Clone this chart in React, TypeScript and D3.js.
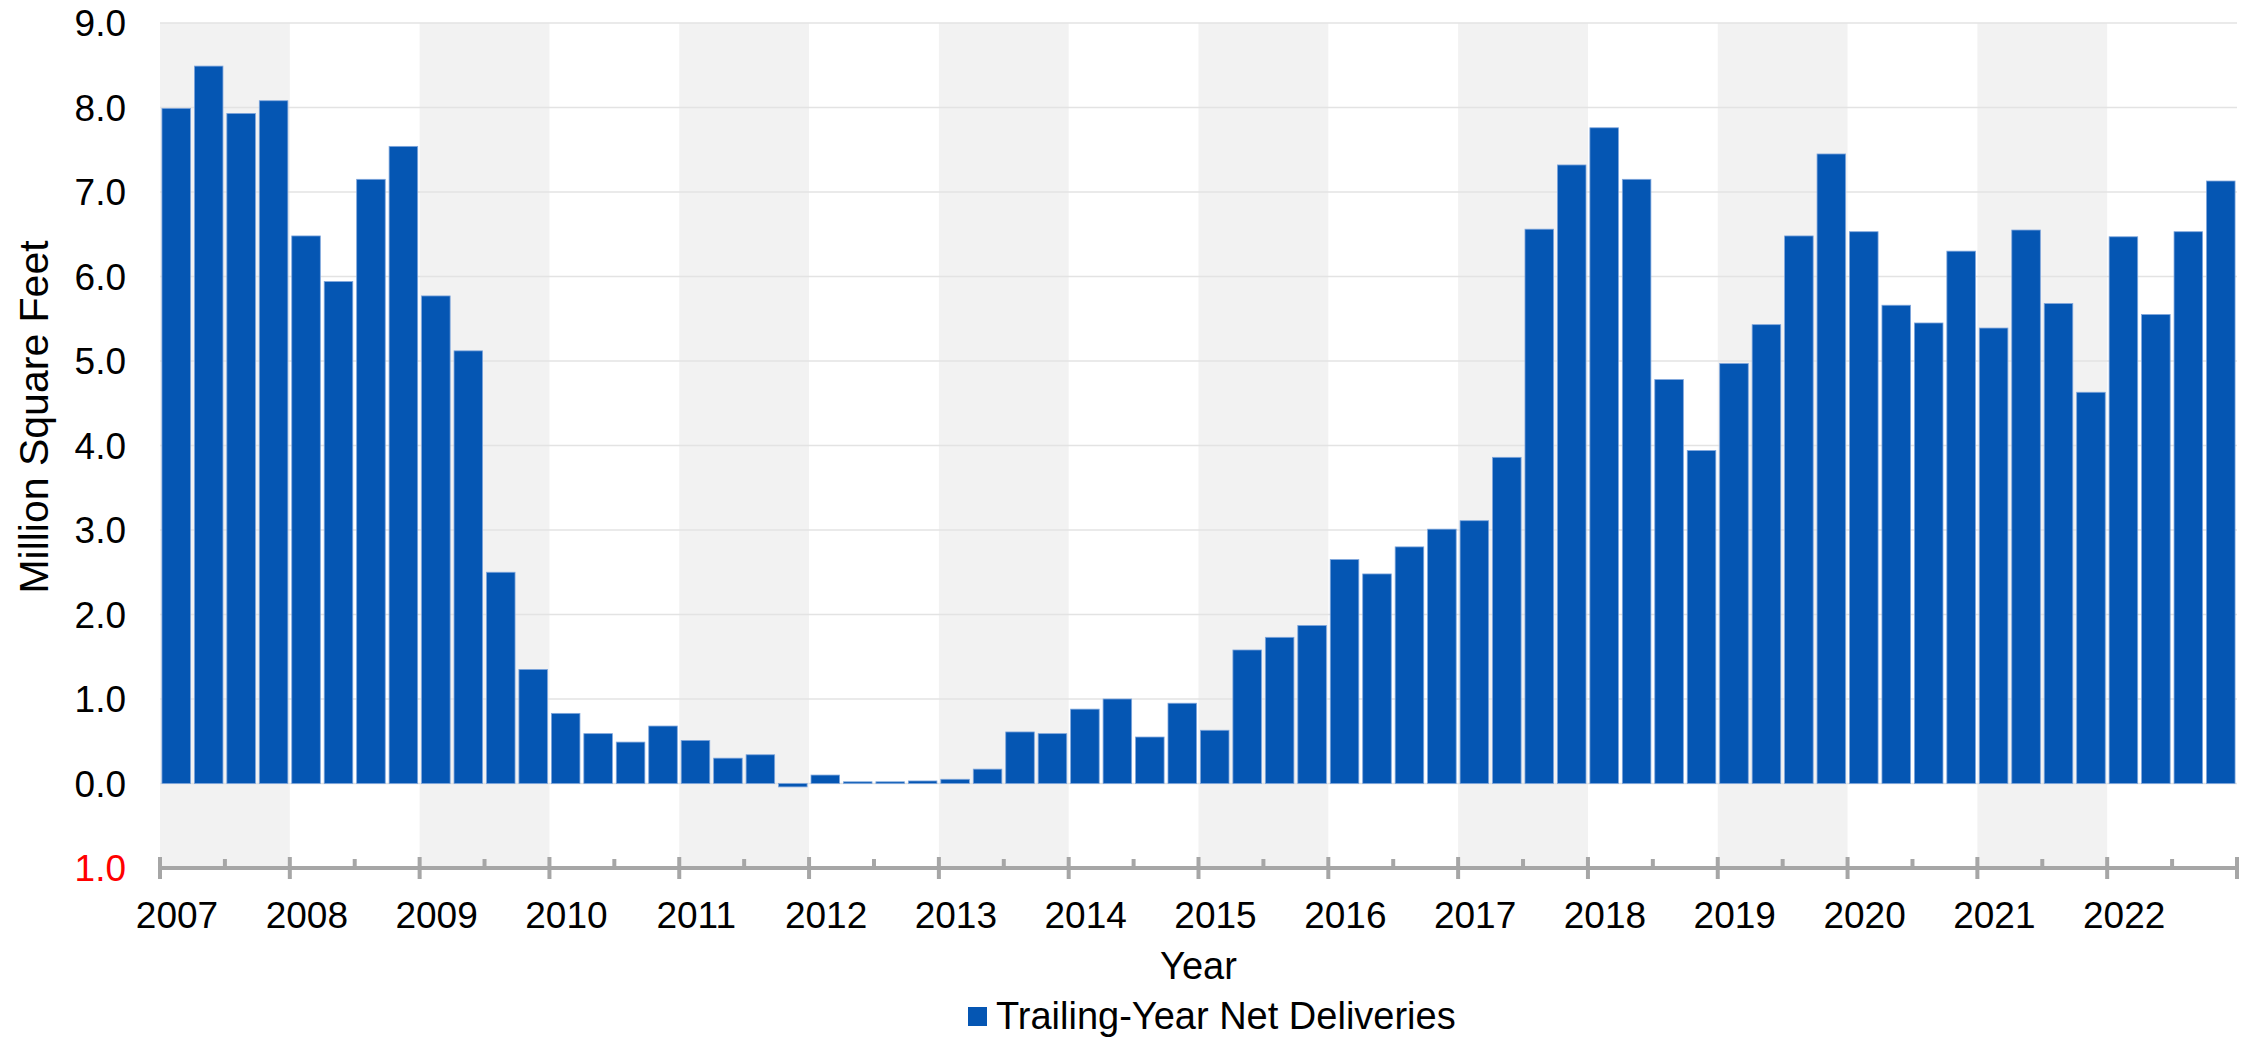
import React, { useEffect, useRef } from "react";
import * as d3 from "d3";

const years = [2007, 2008, 2009, 2010, 2011, 2012, 2013, 2014, 2015, 2016, 2017, 2018, 2019, 2020, 2021, 2022];
const quarters = ["Q1", "Q2", "Q3", "Q4"];
const netDeliveries = [
  7.99, 8.49, 7.93, 8.08,
  6.48, 5.94, 7.15, 7.54,
  5.77, 5.12, 2.50, 1.35,
  0.83, 0.59, 0.49, 0.68,
  0.51, 0.30, 0.34, -0.04,
  0.10, 0.02, 0.02, 0.03,
  0.05, 0.17, 0.61, 0.59,
  0.88, 1.00, 0.55, 0.95,
  0.63, 1.58, 1.73, 1.87,
  2.65, 2.48, 2.80, 3.01,
  3.11, 3.86, 6.56, 7.32,
  7.76, 7.15, 4.78, 3.94,
  4.97, 5.43, 6.48, 7.45,
  6.53, 5.66, 5.45, 6.30,
  5.39, 6.55, 5.68, 4.63,
  6.47, 5.55, 6.53, 7.13,
];
const yTicks = [-1, 0, 1, 2, 3, 4, 5, 6, 7, 8, 9];
const seriesName = "Trailing-Year Net Deliveries";
const xTitle = "Year";
const yTitle = "Million Square Feet";

const W = 2255;
const H = 1038;
const FONT = "'Liberation Sans', Arial, sans-serif";

export default function App() {
  const ref = useRef<SVGSVGElement | null>(null);

  useEffect(() => {
    document.body.style.margin = "0";
    const svg = d3.select(ref.current);
    svg.selectAll("*").remove();

    const left = 160, right = 2237, top = 23, bottom = 868;
    const periods = years.flatMap((y) => quarters.map((q) => `${y}-${q}`));
    const data = periods.map((p, i) => ({ p, v: netDeliveries[i] }));

    const xBand = d3.scaleBand<string>().domain(periods).range([left, right]).paddingInner(0.12).paddingOuter(0.06);
    const xYear = d3.scaleLinear().domain([years[0], years[years.length - 1] + 1]).range([left, right]);
    const y = d3.scaleLinear().domain([-1, 9]).range([bottom, top]);

    // alternating shaded bands
    svg.append("g").selectAll("rect")
      .data(years.filter((_, i) => i % 2 === 0))
      .join("rect")
      .attr("x", (d) => xYear(d))
      .attr("y", top)
      .attr("width", (d) => xYear(d + 1) - xYear(d))
      .attr("height", bottom - top)
      .attr("fill", "#f2f2f2");

    // gridlines
    svg.append("g").selectAll("line")
      .data(yTicks.filter((t) => t >= 0))
      .join("line")
      .attr("x1", left).attr("x2", right)
      .attr("y1", (d) => y(d)).attr("y2", (d) => y(d))
      .attr("stroke", "#e3e3e3").attr("stroke-width", 1.5);

    // bars
    svg.append("g").selectAll("rect")
      .data(data)
      .join("rect")
      .attr("x", (d) => xBand(d.p)!)
      .attr("width", xBand.bandwidth())
      .attr("y", (d) => y(Math.max(0, d.v)))
      .attr("height", (d) => Math.max(1, Math.abs(y(d.v) - y(0))))
      .attr("fill", "#0556b3")
      .attr("stroke", "#7fa6dc")
      .attr("stroke-width", 0.8);

    // y tick labels
    svg.append("g").selectAll("text")
      .data(yTicks)
      .join("text")
      .attr("x", 126)
      .attr("y", (d) => y(d))
      .attr("dy", "0.36em")
      .attr("text-anchor", "end")
      .attr("font-family", FONT)
      .attr("font-size", 37)
      .attr("fill", (d) => (d < 0 ? "#ff0000" : "#000000"))
      .text((d) => Math.abs(d).toFixed(1));

    // x axis
    const ax = svg.append("g");
    ax.append("line")
      .attr("x1", left).attr("x2", right)
      .attr("y1", bottom).attr("y2", bottom)
      .attr("stroke", "#a6a6a6").attr("stroke-width", 4);
    const yearEdges = [...years, years[years.length - 1] + 1];
    ax.selectAll("line.major")
      .data(yearEdges)
      .join("line")
      .attr("class", "major")
      .attr("x1", (d) => xYear(d)).attr("x2", (d) => xYear(d))
      .attr("y1", bottom - 11).attr("y2", bottom + 11)
      .attr("stroke", "#a6a6a6").attr("stroke-width", 4);
    ax.selectAll("line.minor")
      .data(years)
      .join("line")
      .attr("class", "minor")
      .attr("x1", (d) => xYear(d + 0.5)).attr("x2", (d) => xYear(d + 0.5))
      .attr("y1", bottom - 9).attr("y2", bottom)
      .attr("stroke", "#a6a6a6").attr("stroke-width", 4);
    ax.selectAll("text")
      .data(years)
      .join("text")
      .attr("x", (d) => xYear(d) + 17)
      .attr("y", 928)
      .attr("text-anchor", "middle")
      .attr("font-family", FONT)
      .attr("font-size", 37)
      .attr("fill", "#000")
      .text((d) => String(d));

    // axis titles
    svg.append("text")
      .attr("x", (left + right) / 2)
      .attr("y", 979)
      .attr("text-anchor", "middle")
      .attr("font-family", FONT)
      .attr("font-size", 38)
      .text(xTitle);
    svg.append("text")
      .attr("transform", `translate(48, 417) rotate(-90)`)
      .attr("text-anchor", "middle")
      .attr("font-family", FONT)
      .attr("font-size", 41)
      .text(yTitle);

    // legend
    svg.append("rect")
      .attr("x", 968).attr("y", 1007).attr("width", 19).attr("height", 19)
      .attr("fill", "#0556b3");
    svg.append("text")
      .attr("x", 996).attr("y", 1029)
      .attr("font-family", FONT)
      .attr("font-size", 38)
      .text(seriesName);
  }, []);

  return <svg ref={ref} width={W} height={H} style={{ display: "block", background: "#fff" }} />;
}
